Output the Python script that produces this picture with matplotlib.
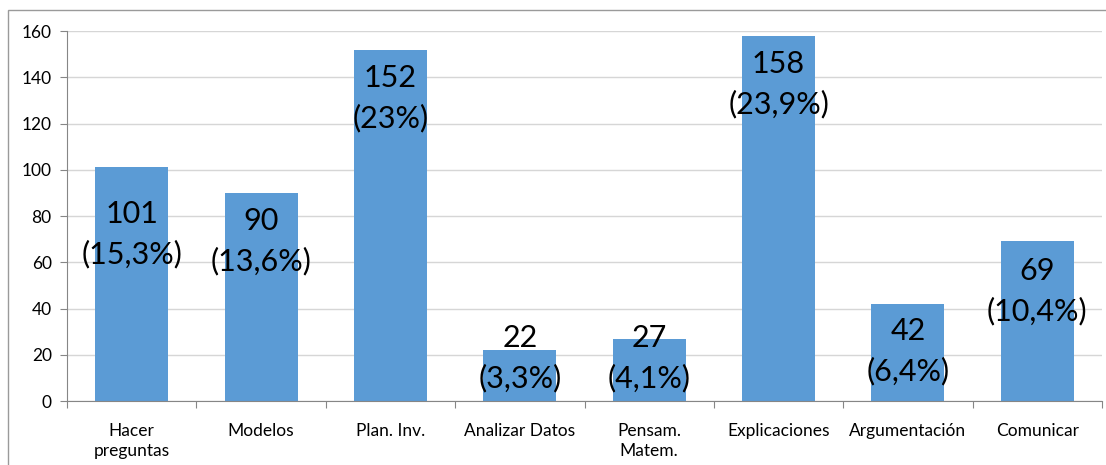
import matplotlib.pyplot as plt
from matplotlib.patches import Rectangle

categories = ["Hacer\npreguntas", "Modelos", "Plan. Inv.", "Analizar Datos",
              "Pensam.\nMatem.", "Explicaciones", "Argumentación", "Comunicar"]
counts = [101, 90, 152, 22, 27, 158, 42, 69]
percents = ["15,3%", "13,6%", "23%", "3,3%", "4,1%", "23,9%", "6,4%", "10,4%"]
yticks = [0, 20, 40, 60, 80, 100, 120, 140, 160]

# where each label sits (data units, center of the two lines)
label_pos = [72, 69, 131, 18.5, 18.5, 137, 21.6, 47.6]

plt.rcParams['font.family'] = ['Lato', 'DejaVu Sans']

fig = plt.figure(figsize=(11.06, 4.65), dpi=100)
ax = fig.add_axes([67 / 1106, 1 - 401 / 465, 1035 / 1106, 370 / 465])

x = list(range(len(categories)))
ax.bar(x, counts, width=0.565, color="#5B9BD5", zorder=2)

for xi, c, p, ly in zip(x, counts, percents, label_pos):
    ax.text(xi, ly, f"{c}\n({p})", ha="center", va="center", fontsize=22,
            linespacing=1.5, color="black", zorder=3)

ax.set_xlim(-0.5, len(categories) - 0.5)
ax.set_ylim(0, 160)
ax.set_yticks(yticks)
ax.tick_params(axis="y", labelsize=12.5, length=5, color="#868686", pad=6)
ax.yaxis.grid(True, color="#d6d6d6", linewidth=1, zorder=0)
ax.set_axisbelow(True)

ax.set_xticks([i - 0.5 for i in range(len(categories) + 1)], minor=False)
ax.set_xticklabels([])
ax.set_xticks(x, minor=True)
ax.set_xticklabels(categories, minor=True, fontsize=12.5, linespacing=1.3)
ax.tick_params(axis="x", which="major", length=5, color="#868686")
ax.tick_params(axis="x", which="minor", length=0, pad=16)

for s in ["top", "right"]:
    ax.spines[s].set_visible(False)
for s in ["left", "bottom"]:
    ax.spines[s].set_color("#868686")

fig.patches.append(Rectangle((8 / 1106, -0.1), 1.2, 1 - 10 / 465 + 0.1,
                             transform=fig.transFigure, fill=False,
                             edgecolor="#9a9a9a", linewidth=1))

fig.savefig("out.png", dpi=100)
